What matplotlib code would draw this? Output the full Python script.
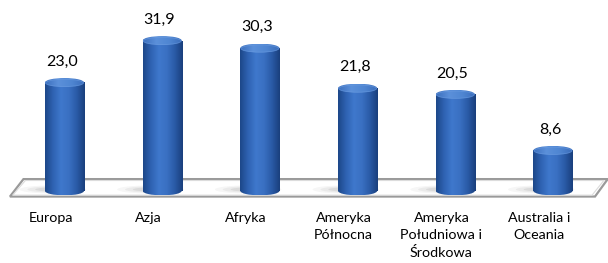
import numpy as np
import matplotlib.pyplot as plt
from matplotlib.patches import Ellipse, Polygon, Rectangle
from matplotlib.colors import LinearSegmentedColormap

plt.rcParams['font.family'] = ['Lato', 'DejaVu Sans']

# Data
regions = ['Europa', 'Azja', 'Afryka', 'Ameryka\nPółnocna',
           'Ameryka\nPołudniowa i\nŚrodkowa', 'Australia i\nOceania']
values = [23.0, 31.9, 30.3, 21.8, 20.5, 8.6]
value_labels = ['23,0', '31,9', '30,3', '21,8', '20,5', '8,6']

fig = plt.figure(figsize=(6.08, 2.63), dpi=100)
ax = fig.add_axes([0, 0, 1, 1])
ax.set_xlim(-0.660, 5.563)
ax.set_ylim(-15.3, 40.5)
ax.axis('off')

# floor (3D-style plate)
floor = Polygon([(-0.558, -1.2), (5.43, -1.2), (5.56, 2.5), (-0.42, 2.5)],
                closed=True, facecolor='white', edgecolor='#9a9a9a', lw=1.6, zorder=1)
ax.add_patch(floor)
floor2 = Polygon([(-0.53, -0.9), (5.40, -0.9), (5.52, 2.2), (-0.40, 2.2)],
                 closed=True, facecolor='none', edgecolor='#dcdcdc', lw=0.8, zorder=1)
ax.add_patch(floor2)

body_cmap = LinearSegmentedColormap.from_list(
    'body', ['#1c4788', '#2f62b2', '#3f78cc', '#3a70c2', '#2a5aa6', '#1a3f7c'])
top_cmap = LinearSegmentedColormap.from_list(
    'top', ['#3c6fbd', '#5b90da', '#4f86d2', '#3a6cba'])

w = 0.40      # bar width (x units)
eh = 1.9      # ellipse height (y units)
grad = np.linspace(0, 1, 256).reshape(1, -1)

for i, (v, lab) in enumerate(zip(values, value_labels)):
    x0 = i - w / 2
    # soft shadow on the floor, falling to the left
    for k, a in enumerate([0.05, 0.07, 0.10]):
        sh = Ellipse((i - 0.12 + 0.03 * k, 0.3), w * (1.7 - 0.25 * k), eh * (0.9 - 0.2 * k),
                     facecolor='#505050', edgecolor='none', alpha=a, zorder=2)
        ax.add_patch(sh)
    # body: rectangle + bottom ellipse, gradient clipped
    rect = Rectangle((x0, 0), w, v, facecolor='none', edgecolor='none')
    bot = Ellipse((i, 0), w, eh, facecolor='none', edgecolor='none')
    ax.add_patch(rect)
    ax.add_patch(bot)
    im1 = ax.imshow(grad, cmap=body_cmap, extent=(x0, x0 + w, 0, v),
                    aspect='auto', zorder=3, interpolation='bilinear')
    im1.set_clip_path(rect)
    im2 = ax.imshow(grad, cmap=body_cmap, extent=(x0, x0 + w, -eh / 2, 0),
                    aspect='auto', zorder=3, interpolation='bilinear')
    im2.set_clip_path(bot)
    # top cap
    top = Ellipse((i, v), w, eh, facecolor='none', edgecolor='none')
    ax.add_patch(top)
    im3 = ax.imshow(grad, cmap=top_cmap, extent=(x0, x0 + w, v - eh / 2, v + eh / 2),
                    aspect='auto', zorder=4, interpolation='bilinear')
    im3.set_clip_path(top)
    rim = Ellipse((i, v - 0.1), w * 0.97, eh * 0.8, facecolor='none',
                  edgecolor='#6a9be0', lw=0.6, alpha=0.6, zorder=5)
    ax.add_patch(rim)
    # value label
    ax.annotate(lab, (i, v), xytext=(-2, 15), textcoords='offset points',
                ha='center', va='center', fontsize=11.5, color='#000000', zorder=6)
    # category label
    ax.annotate(regions[i], (i, -4.4), xytext=(-10, 0), textcoords='offset points',
                ha='center', va='top', fontsize=10.3, linespacing=1.5,
                color='#000000', zorder=6)

fig.savefig('out.png', dpi=100)
